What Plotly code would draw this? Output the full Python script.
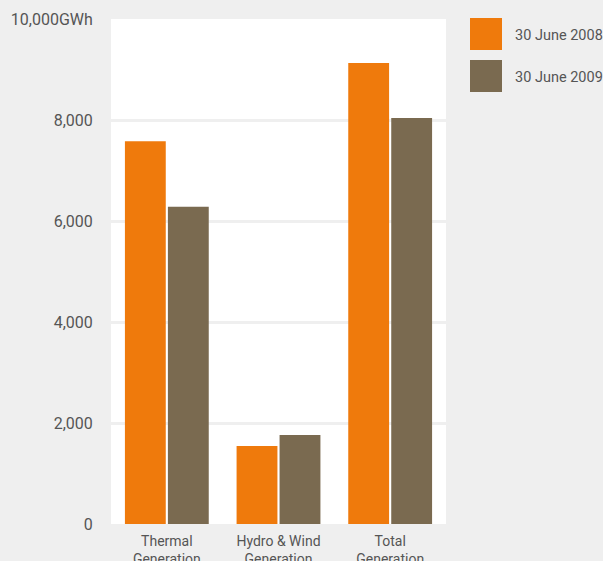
import plotly.graph_objects as go

categories = ["Thermal<br>Generation", "Hydro & Wind<br>Generation", "Total<br>Generation"]
series_names = ["30 June 2008", "30 June 2009"]
values_2008 = [7580, 1545, 9130]
values_2009 = [6280, 1760, 8040]
colors = ["#EF7A0C", "#7A6A50"]
tick_vals = [0, 2000, 4000, 6000, 8000, 10000]
tick_text = ["0", "2,000", "4,000", "6,000", "8,000", "10,000GWh"]

FONT = "Roboto"

fig = go.Figure()
for name, vals, col in zip(series_names, [values_2008, values_2009], colors):
    fig.add_trace(go.Bar(x=categories, y=vals, name=name, marker_color=col,
                         marker_line_width=0, showlegend=False))

# custom legend (large square swatches)
for i, (name, col) in enumerate(zip(series_names, colors)):
    fig.add_shape(type="rect", xref="paper", yref="paper",
                  x0=(470 - 111) / 335, x1=(502 - 111) / 335,
                  y0=(524 - 50 - 42 * i) / 505, y1=(524 - 18 - 42 * i) / 505,
                  fillcolor=col, line_width=0)
    fig.add_annotation(xref="paper", yref="paper",
                       x=(513 - 111) / 335, y=(524 - 35 - 42 * i) / 505,
                       text=name, showarrow=False, xanchor="left", yanchor="middle",
                       font=dict(family=FONT, size=14.5, color="#555555"))

fig.update_layout(
    width=603, height=561,
    margin=dict(l=111, r=157, t=19, b=37),
    paper_bgcolor="#EFEFEF",
    plot_bgcolor="#FFFFFF",
    barmode="group",
    bargap=0.23,
    bargroupgap=0.05,
    font=dict(family=FONT, color="#555555"),
)
fig.update_yaxes(range=[0, 10000], tickvals=tick_vals, ticktext=tick_text,
                 showgrid=True, gridcolor="#EFEFEF", gridwidth=3,
                 zeroline=False, showline=False, automargin=False,
                 ticks="outside", ticklen=14, tickcolor="rgba(0,0,0,0)",
                 tickfont=dict(family=FONT, size=16, color="#555555"))
fig.update_xaxes(showgrid=False, zeroline=False, showline=False, automargin=False,
                 ticks="outside", ticklen=4, tickcolor="rgba(0,0,0,0)",
                 tickfont=dict(family=FONT, size=14, color="#555555"))

fig.write_html("out.html")
